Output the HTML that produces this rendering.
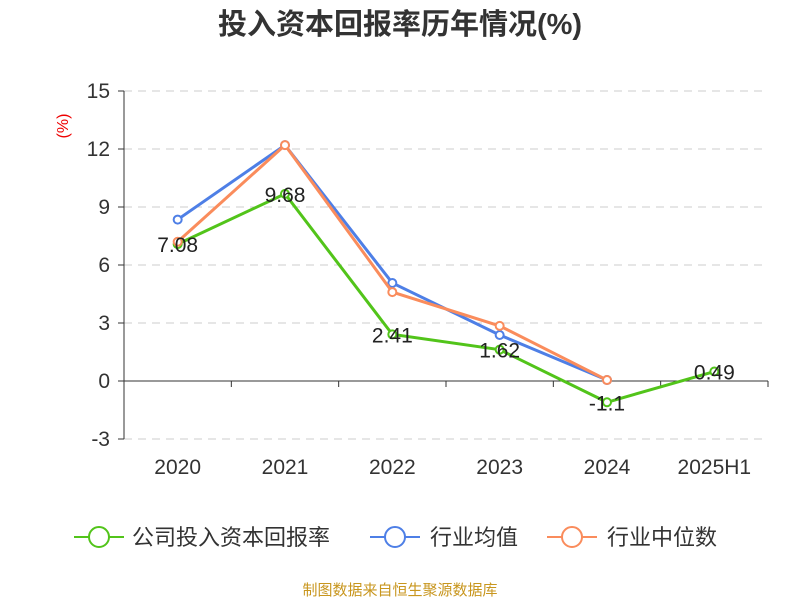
<!DOCTYPE html>
<html><head><meta charset="utf-8"><style>
body{margin:0;background:#fff;}
svg text{font-family:"Liberation Sans","Noto Sans CJK SC",sans-serif;}
</style></head><body>
<svg id="chart" width="800" height="600" viewBox="0 0 800 600" xmlns="http://www.w3.org/2000/svg">
<text x="400" y="34" text-anchor="middle" font-size="29" font-weight="bold" fill="#333">投入资本回报率历年情况(%)</text>
<text transform="translate(68,126) rotate(-90)" text-anchor="middle" font-size="16" fill="#e00">(%)</text>
<g id="grid"></g><g id="axes"></g><g id="series"></g>
<g>
<g><line x1="74" y1="537" x2="124" y2="537" stroke="#52c41a" stroke-width="2"/><circle cx="99" cy="537" r="10" fill="#fff" stroke="#52c41a" stroke-width="2"/><text x="132" y="545" font-size="22" fill="#333">公司投入资本回报率</text></g>
<g><line x1="370" y1="537" x2="420" y2="537" stroke="#4e7fe6" stroke-width="2"/><circle cx="395" cy="537" r="10" fill="#fff" stroke="#4e7fe6" stroke-width="2"/><text x="430" y="545" font-size="22" fill="#333">行业均值</text></g>
<g><line x1="547" y1="537" x2="597" y2="537" stroke="#fa8c5c" stroke-width="2"/><circle cx="572" cy="537" r="10" fill="#fff" stroke="#fa8c5c" stroke-width="2"/><text x="607" y="545" font-size="22" fill="#333">行业中位数</text></g>
</g>
<text x="400" y="595" text-anchor="middle" font-size="15" fill="#c8961e">制图数据来自恒生聚源数据库</text>
</svg>
<script>
const categories=["2020","2021","2022","2023","2024","2025H1"];
const companyValues=[7.08,9.68,2.41,1.62,-1.1,0.49];
const industryAvg=[8.35,12.2,5.07,2.38,0.05,null];
const industryMedian=[7.2,12.2,4.6,2.85,0.05,null];
const yTicks=[-3,0,3,6,9,12,15];
const NS="http://www.w3.org/2000/svg";
const x0=124,x1=768,yTop=91,yBot=439,yMin=-3,yMax=15;
const bw=(x1-x0)/categories.length;
function xs(i){return x0+bw*(i+0.5);}
function ys(v){return yBot-(v-yMin)/(yMax-yMin)*(yBot-yTop);}
function mk(tag,attrs,parent){const e=document.createElementNS(NS,tag);for(const k in attrs)e.setAttribute(k,attrs[k]);parent.appendChild(e);return e;}
const grid=document.getElementById('grid'),axes=document.getElementById('axes'),ser=document.getElementById('series');
yTicks.forEach(t=>{
 const y=ys(t);
 if(t!==0){const g=mk('line',{x1:x0,x2:x1,y1:y,y2:y,stroke:'#ccc','stroke-dasharray':'8,6'},grid);
 
 }
 const tk=mk('line',{x1:x0-6,x2:x0,y1:y,y2:y,stroke:'#333'},axes);
 
 
 const tx=mk('text',{x:x0-14,y:y+7,'text-anchor':'end','font-size':'21',fill:'#333'},axes);
 
 
 tx.textContent=t;
});
const ya=mk('line',{x1:x0,x2:x0,y1:yTop,y2:yBot,stroke:'#333'},axes);


const xa=mk('line',{x1:x0,x2:x1,y1:ys(0),y2:ys(0),stroke:'#333'},axes);


categories.forEach((c,i)=>{
 const tx2=x0+bw*i;
 const tk=mk('line',{x1:tx2,x2:tx2,y1:ys(0),y2:ys(0)+6,stroke:'#333'},axes);
 
 
 const t=mk('text',{x:xs(i),y:474,'text-anchor':'middle','font-size':'21',fill:'#333'},axes);
 
 
 t.textContent=c;
});
const tk2=mk('line',{x1:x1,x2:x1,y1:ys(0),y2:ys(0)+6,stroke:'#333'},axes);


function drawSeries(vals,color,name){
 const pts=vals.map((v,i)=>v===null?null:[xs(i),ys(v)]).filter(p=>p);
 const pl=mk('polyline',{points:pts.map(p=>p.join(',')).join(' '),fill:'none',stroke:color,'stroke-width':3},ser);
 
 
 pts.forEach(p=>{const c=mk('circle',{cx:p[0],cy:p[1],r:4,fill:'#fff',stroke:color,'stroke-width':2},ser);
 
 });
}
drawSeries(companyValues,'#52c41a','company');
drawSeries(industryAvg,'#4e7fe6','industry-avg');
drawSeries(industryMedian,'#fa8c5c','industry-median');
companyValues.forEach((v,i)=>{
 const t=mk('text',{x:xs(i),y:ys(v)+8,'text-anchor':'middle','font-size':'21',fill:'#222'},ser);
 
 
 t.textContent=v;
});
</script>
</body></html>
